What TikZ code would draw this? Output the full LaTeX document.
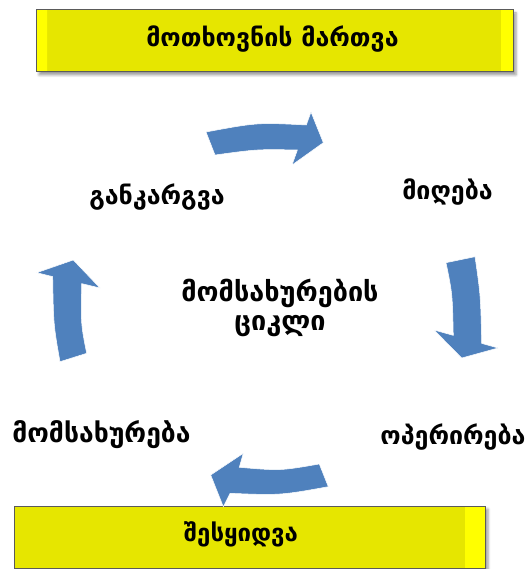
\documentclass[tikz,border=0pt]{standalone}
\usepackage{fontspec}
\newfontfamily\geo{DejaVu Sans}
\usetikzlibrary{shadows.blur}
\definecolor{boxyellow}{RGB}{230,230,0}
\definecolor{brightyellow}{RGB}{255,255,0}
\definecolor{boxedge}{RGB}{90,90,90}
\definecolor{cyclearrow}{RGB}{79,129,189}
\begin{document}
\begin{tikzpicture}[x=1pt,y=-1pt,
  lbl/.style={font=\geo\bfseries\fontsize{25}{31}\selectfont, text=black, inner sep=0pt, align=center},
  panel/.style={draw=boxedge, line width=1pt, fill=boxyellow,
    blur shadow={shadow xshift=3pt, shadow yshift=-3pt, shadow blur radius=2.5pt, shadow opacity=40}},
  cyc/.style={fill=cyclearrow, draw=white, line width=0.5pt, line join=miter}]
\useasboundingbox (0,0) rectangle (529,569);

% header and footer panels
\node[panel, minimum width=477pt, minimum height=62pt,
  path picture={
    \fill[left color=brightyellow, right color=boxyellow!60!brightyellow]
      (path picture bounding box.north west) rectangle ++(11,80);
    \fill[brightyellow]
      ([xshift=-12pt]path picture bounding box.north east) rectangle (path picture bounding box.south east);
  }] (demand) at (274.5,41) {};
\node[lbl] (demandtxt) at (272.5,39) {მოთხოვნის მართვა};

\node[panel, minimum width=471pt, minimum height=62pt,
  path picture={
    \fill[brightyellow]
      ([xshift=-20pt]path picture bounding box.north east) rectangle (path picture bounding box.south east);
  }] (purchase) at (249.5,537) {};
\node[lbl, font=\geo\bfseries\fontsize{24}{30}\selectfont] (purchasetxt) at (241,534) {შესყიდვა};

% cycle stages
\node[lbl] (disposal) at (157,197) {განკარგვა};
\node[lbl] (receipt) at (447.5,192) {მიღება};
\node[lbl] (operation) at (453,437) {ოპერირება};
\node[lbl, font=\geo\bfseries\fontsize{26.5}{31}\selectfont] (service) at (101.5,435) {მომსახურება};
\node[lbl, font=\geo\bfseries\fontsize{27}{29}\selectfont] (cycle) at (280,308) {მომსახურების\\ციკლი};

% curved arrows between the stages
\fill[cyc] (206,132) .. controls (257.3,122.5) .. (306.3,125) -- (311,112) -- (323.3,142.7)
  -- (292,165) -- (297.4,150) .. controls (257.3,149.2) .. (215,155) -- cycle;
\fill[cyc] (446,262.7) -- (475,256.7) .. controls (480.6,295.6) .. (481.7,343.4) -- (498,348)
  -- (461.7,358) -- (434,330) -- (453.3,335.4) .. controls (452.4,293.7) .. cycle;
\fill[cyc] (319.3,464) -- (328.3,486.7) .. controls (280.3,495.3) .. (230,493.3) -- (223.3,506.7)
  -- (210.7,475) -- (243.3,453.3) -- (239.3,467.3) .. controls (280.2,470.8) .. cycle;
\fill[cyc] (60,361.7) -- (86.7,353.3) .. controls (80.9,324.5) .. (81.7,283.6) -- (100,288)
  -- (73.3,260) -- (36.7,272.7) -- (52.7,276.6) .. controls (53.5,324.7) .. cycle;
\end{tikzpicture}
\end{document}
